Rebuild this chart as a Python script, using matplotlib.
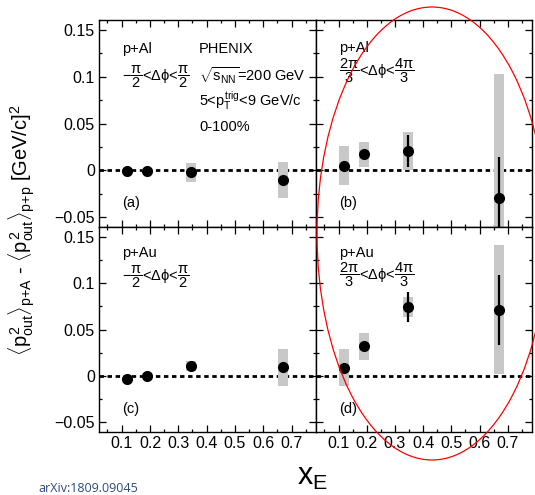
import matplotlib
matplotlib.use("Agg")
import matplotlib.pyplot as plt
from matplotlib.patches import Ellipse
from matplotlib.ticker import MultipleLocator, FuncFormatter

plt.rcParams["font.family"] = ["Liberation Sans", "DejaVu Sans"]
plt.rcParams["mathtext.fontset"] = "custom"
plt.rcParams["mathtext.rm"] = "Liberation Sans"
plt.rcParams["mathtext.it"] = "Liberation Sans"
plt.rcParams["mathtext.bf"] = "Liberation Sans:bold"

# data: mean x_E per bin, values, stat and sys errors
xe = [0.12, 0.19, 0.345, 0.67]

a_y = [-0.0005, -0.0002, -0.002, -0.0105]
a_stat = [0.001, 0.001, 0.0015, 0.003]
a_sys = [0.002, 0.0018, 0.010, 0.019]

b_y = [0.005, 0.017, 0.0205, -0.029]
b_stat = [0.003, 0.003, 0.017, 0.043]
b_sys = [0.021, 0.0135, 0.020, 0.132]

c_y = [-0.0035, 0.0, 0.0105, 0.0093]
c_stat = [0.001, 0.001, 0.002, 0.003]
c_sys = [0.002, 0.002, 0.0057, 0.0197]

d_y = [0.0089, 0.0318, 0.0743, 0.0714]
d_stat = [0.003, 0.004, 0.0157, 0.0377]
d_sys = [0.0197, 0.0143, 0.0107, 0.0693]

y_ticks = [-0.05, 0, 0.05, 0.1, 0.15]
x_ticks = [0.1, 0.2, 0.3, 0.4, 0.5, 0.6, 0.7]

near = r"$-\dfrac{\pi}{2}$<$\Delta\phi$<$\dfrac{\pi}{2}$"
away = r"$\dfrac{2\pi}{3}$<$\Delta\phi$<$\dfrac{4\pi}{3}$"

fig = plt.figure(figsize=(5.35, 4.95), dpi=100)
W, H = 535.0, 495.0


def mkax(x0, y0, x1, y1):
    return fig.add_axes([x0 / W, 1 - y1 / H, (x1 - x0) / W, (y1 - y0) / H])


ax_a = mkax(99, 20, 316, 227)
ax_b = mkax(316, 20, 532, 227)
ax_c = mkax(99, 227, 316, 432)
ax_d = mkax(316, 227, 532, 432)

fmt = FuncFormatter(lambda v, p: ("%g" % v).replace("-", "\u2212"))

panels = [(ax_a, a_y, a_stat, a_sys), (ax_b, b_y, b_stat, b_sys),
          (ax_c, c_y, c_stat, c_sys), (ax_d, d_y, d_stat, d_sys)]
for ax, y, st, sy in panels:
    ax.set_xlim(0.02, 0.786)
    ax.set_ylim(-0.0604, 0.1604)
    ax.axhline(0, color="black", lw=2.0, ls=(0, (1.6, 1.3)), zorder=1)
    ax.bar(xe, [2 * s for s in sy], bottom=[v - s for v, s in zip(y, sy)],
           width=0.035, color="#c8c8c8", zorder=2)
    ax.errorbar(xe, y, yerr=st, fmt="o", color="black", ms=7, elinewidth=1.6,
                capsize=0, zorder=3)
    ax.set_yticks(y_ticks)
    ax.set_xticks(x_ticks)
    ax.yaxis.set_minor_locator(MultipleLocator(0.025))
    ax.xaxis.set_minor_locator(MultipleLocator(0.05))
    ax.tick_params(which="both", direction="in", top=True, right=True,
                   labelsize=11.5, width=0.9, pad=3)
    ax.tick_params(which="major", length=5)
    ax.tick_params(which="minor", length=2.5)
    ax.yaxis.set_major_formatter(fmt)
    for s in ax.spines.values():
        s.set_linewidth(1.0)

for ax in (ax_a, ax_b):
    ax.tick_params(labelbottom=False)
for ax in (ax_b, ax_d):
    ax.tick_params(labelleft=False)

ts = 10.5
fig.text(122 / W, 1 - 49 / H, "p+Al", fontsize=ts, va="center")
fig.text(122 / W, 1 - 77 / H, near, fontsize=ts, va="center")
fig.text(199 / W, 1 - 49 / H, "PHENIX", fontsize=ts, va="center")
fig.text(199 / W, 1 - 76 / H, r"$\sqrt{s_{NN}}$=200 GeV", fontsize=ts, va="center")
fig.text(199 / W, 1 - 101 / H, r"5<$p_T^{trig}$<9 GeV/c", fontsize=ts, va="center")
fig.text(199 / W, 1 - 127 / H, "0-100%", fontsize=ts, va="center")
fig.text(122 / W, 1 - 203 / H, "(a)", fontsize=ts, va="center")

fig.text(339 / W, 1 - 48 / H, "p+Al", fontsize=ts, va="center")
fig.text(339 / W, 1 - 71 / H, away, fontsize=ts, va="center")
fig.text(339 / W, 1 - 203 / H, "(b)", fontsize=ts, va="center")

fig.text(122 / W, 1 - 253 / H, "p+Au", fontsize=ts, va="center")
fig.text(122 / W, 1 - 277 / H, near, fontsize=ts, va="center")
fig.text(122 / W, 1 - 409 / H, "(c)", fontsize=ts, va="center")

fig.text(339 / W, 1 - 253 / H, "p+Au", fontsize=ts, va="center")
fig.text(339 / W, 1 - 275 / H, away, fontsize=ts, va="center")
fig.text(339 / W, 1 - 409 / H, "(d)", fontsize=ts, va="center")

# axis titles
fig.text(22 / W, 1 - 230 / H,
         r"$\langle p^2_{out}\rangle_{p{+}A}$ - $\langle p^2_{out}\rangle_{p{+}p}$ [GeV/c]$^2$",
         fontsize=14.5, rotation=90, ha="center", va="center")
fig.text(312 / W, 1 - 485 / H, r"$x_E$", fontsize=22, ha="center", va="baseline")
fig.text(38 / W, 1 - 488 / H, "arXiv:1809.09045", fontsize=9, color="#2d4a7c",
         family=["Open Sans", "DejaVu Sans"], va="center")

# red ellipse highlighting the away-side panels
ell = Ellipse((432 / W, 1 - 233.5 / H), 230 / W, 453 / H, transform=fig.transFigure,
              fill=False, edgecolor="red", lw=0.9, zorder=10)
fig.add_artist(ell)

fig.savefig("out.png", dpi=100, facecolor="white")
